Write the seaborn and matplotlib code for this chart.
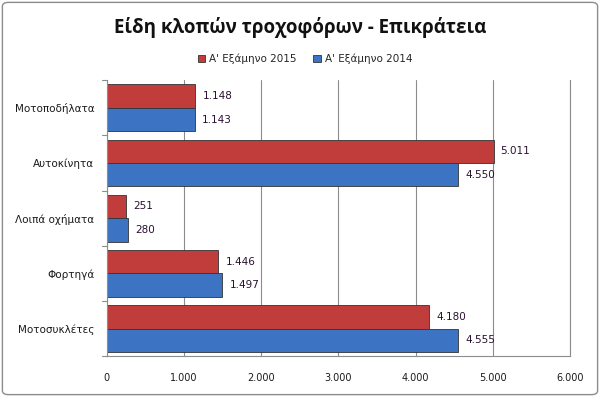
import pandas as pd
import matplotlib.pyplot as plt
import seaborn as sns
from matplotlib.patches import FancyBboxPatch
from matplotlib.ticker import FuncFormatter

# chart data
categories = ['Μοτοποδήλατα', 'Αυτοκίνητα', 'Λοιπά οχήματα', 'Φορτηγά', 'Μοτοσυκλέτες']
series_names = ["Α' Εξάμηνο 2015", "Α' Εξάμηνο 2014"]
values_2015 = [1148, 5011, 251, 1446, 4180]
values_2014 = [1143, 4550, 280, 1497, 4555]

df = pd.DataFrame({
    'Κατηγορία': categories * 2,
    'Περίοδος': [series_names[0]] * 5 + [series_names[1]] * 5,
    'Κλοπές': values_2015 + values_2014,
})

def thousands(v):
    return f'{int(round(v)):,}'.replace(',', '.')

sns.set_style('white')
plt.rcParams['font.family'] = ['DejaVu Sans']

fig = plt.figure(figsize=(6, 3.97), dpi=100)
ax = fig.add_axes([0.178, 0.103, 0.772, 0.695])

palette = {series_names[0]: '#c13d3b', series_names[1]: '#3c74c3'}
sns.barplot(data=df, x='Κλοπές', y='Κατηγορία', hue='Περίοδος', hue_order=series_names,
            order=categories, palette=palette, orient='h', width=0.85, ax=ax,
            edgecolor='#333333', linewidth=0.6, saturation=1)

for cont in ax.containers:
    ax.bar_label(cont, labels=[thousands(w) for w in cont.datavalues],
                 padding=5, fontsize=7.5, color='#2a1030')

ax.set_xlim(0, 6000)
ax.set_ylim(4.5, -0.5)
ax.set_xticks(range(0, 6001, 1000))
ax.xaxis.set_major_formatter(FuncFormatter(lambda v, p: thousands(v)))
ax.set_xlabel('')
ax.set_ylabel('')
ax.tick_params(axis='x', labelsize=7, length=0, pad=12, colors='#1a1a1a')
ax.tick_params(axis='y', labelsize=7.5, length=0, pad=9, colors='#1a1a1a')
ax.grid(axis='x', color='#8c8c8c', linewidth=0.8)
ax.set_axisbelow(True)
ax.spines['top'].set_visible(False)
for s in ['left', 'bottom', 'right']:
    ax.spines[s].set_color('#8c8c8c')
    ax.spines[s].set_linewidth(0.8)

# small tick marks on the category axis between groups
for yb in [-0.5, 0.5, 1.5, 2.5, 3.5, 4.5]:
    ax.plot([-60, 0], [yb, yb], color='#8c8c8c', lw=0.8, clip_on=False)
ax.set_xlim(0, 6000)
ax.set_ylim(4.5, -0.5)

ax.legend(loc='center', bbox_to_anchor=(305 / 600, 1 - 59 / 397), bbox_transform=fig.transFigure,
          ncol=2, frameon=False, fontsize=7.5, handlelength=0.7, handleheight=0.7,
          columnspacing=1.6, handletextpad=0.4)

fig.text(0.5, 0.93, 'Είδη κλοπών τροχοφόρων - Επικράτεια', ha='center', va='center',
         fontsize=13.5, fontweight='bold', color='#111111', family=['Open Sans', 'DejaVu Sans'])

fig.patches.append(FancyBboxPatch((0.004, 0.006), 0.992, 0.988, boxstyle='round,pad=0,rounding_size=0.01',
                                  transform=fig.transFigure, fill=False, edgecolor='#8c8c8c', lw=1))

fig.savefig('out.png', dpi=100)
